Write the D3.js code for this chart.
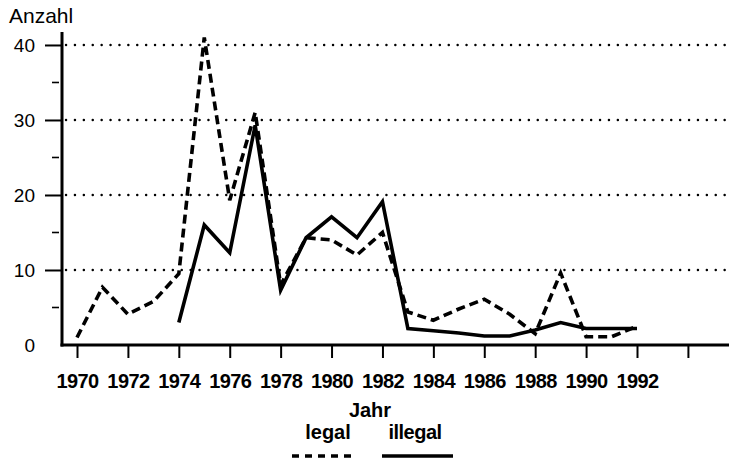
<!DOCTYPE html>
<html>
<head>
	<title>Anzahl legal / illegal</title>
	<script type="text/javascript" src="https://d3js.org/d3.v7.min.js"></script>
	<style>
		body { margin: 0; background: #fff; }
		text { font-family: "Liberation Sans", Arial, sans-serif; fill: #000; }
	</style>
</head>
<body>
<div id="container"></div>
<script type="text/javascript">

// data
var legalYears = d3.range(1970, 1993);
var legalValues = [1, 7.7, 4.1, 5.8, 9.5, 41, 19.3, 31, 8, 14.3, 14, 12, 15, 4.4, 3.3, 4.8, 6.1, 4.1, 1.5, 9.6, 1.1, 1.1, 2.5];
var illegalYears = d3.range(1974, 1993);
var illegalValues = [3, 16, 12.3, 29.3, 7.3, 14.3, 17.1, 14.3, 19.1, 2.2, 1.9, 1.6, 1.2, 1.2, 2, 3, 2.2, 2.2, 2.2];
var yTicks = [10, 20, 30, 40];
var yMinorTicks = [5, 15, 25, 35];
var xTicks = d3.range(1970, 1995, 2);
var xLabels = d3.range(1970, 1993, 2);

var width = 729;
var height = 461;

var svg = d3.select("#container").append("svg").attr("width", width).attr("height", height)
svg.append("rect").attr("width", width).attr("height", height).attr("fill", "#fff")

var x = d3.scaleLinear().domain([1970, 1992]).range([77, 637]);
var y = d3.scaleLinear().domain([0, 41.73]).range([345, 32]);

// dotted gridlines
svg.append("g").selectAll("line")
	.data(yTicks)
	.enter().append("line")
	.attr("x1", 66).attr("x2", width)
	.attr("y1", function(d) { return y(d); })
	.attr("y2", function(d) { return y(d); })
	.attr("stroke", "#000")
	.attr("stroke-width", 2.4)
	.attr("stroke-linecap", "round")
	.attr("stroke-dasharray", "0.1 8.8");

// y axis
var yAxis = d3.axisLeft(y).tickValues(yTicks.concat([0])).tickSize(17).tickPadding(10).tickFormat(d3.format("d"));
var gy = svg.append("g").attr("transform", "translate(62,0)").call(yAxis);
gy.select(".domain").remove();
gy.selectAll(".tick line").attr("stroke", "#000").attr("stroke-width", 2);
gy.selectAll(".tick").filter(function(d) { return d == 0; }).select("line").remove();
gy.selectAll(".tick text").attr("font-size", 19).attr("font-family", "Liberation Sans, Arial, sans-serif").attr("fill", "#000");

svg.append("g").selectAll("line")
	.data(yMinorTicks)
	.enter().append("line")
	.attr("x1", 52).attr("x2", 59)
	.attr("y1", function(d) { return y(d); })
	.attr("y2", function(d) { return y(d); })
	.attr("stroke", "#000")
	.attr("stroke-width", 1.6);

svg.append("line").attr("x1", 62).attr("x2", 62).attr("y1", y(41.73)).attr("y2", y(0) + 1.5)
	.attr("stroke", "#000").attr("stroke-width", 3);

// x axis
var xAxis = d3.axisBottom(x).tickValues(xTicks).tickSize(13).tickPadding(16)
	.tickFormat(function(d) { return xLabels.indexOf(d) >= 0 ? d : ""; });
var gx = svg.append("g").attr("transform", "translate(0," + y(0) + ")").call(xAxis);
gx.select(".domain").remove();
gx.selectAll(".tick line").attr("stroke", "#000").attr("stroke-width", 2);
gx.selectAll(".tick text").attr("font-size", 20).attr("font-weight", "bold").attr("letter-spacing", -0.6)
	.attr("font-family", "Liberation Sans, Arial, sans-serif").attr("fill", "#000");

svg.append("line").attr("x1", 60.5).attr("x2", width).attr("y1", y(0)).attr("y2", y(0))
	.attr("stroke", "#000").attr("stroke-width", 3);

// series
var line = d3.line()
	.x(function(d) { return x(d[0]); })
	.y(function(d) { return y(d[1]); });

svg.append("path")
	.datum(d3.zip(legalYears, legalValues))
	.attr("d", line)
	.attr("fill", "none")
	.attr("stroke", "#000")
	.attr("stroke-width", 3.6)
	.attr("stroke-dasharray", "9 5");

svg.append("path")
	.datum(d3.zip(illegalYears, illegalValues))
	.attr("d", line)
	.attr("fill", "none")
	.attr("stroke", "#000")
	.attr("stroke-width", 3.6)
	.attr("stroke-linejoin", "miter");

// titles
svg.append("text").attr("x", 9).attr("y", 23).attr("font-size", 21).text("Anzahl");
svg.append("text").attr("x", 370).attr("y", 417).attr("font-size", 20).attr("font-weight", "bold")
	.attr("text-anchor", "middle").text("Jahr");

// legend
var legend = svg.append("g")
legend.append("text").attr("x", 328).attr("y", 439).attr("font-size", 20).attr("font-weight", "bold")
	.attr("text-anchor", "middle").text("legal");
legend.append("text").attr("x", 415).attr("y", 439).attr("font-size", 20).attr("font-weight", "bold")
	.attr("letter-spacing", -0.5).attr("text-anchor", "middle").text("illegal");
legend.append("line").attr("x1", 292).attr("x2", 357).attr("y1", 456).attr("y2", 456)
	.attr("stroke", "#000").attr("stroke-width", 3.6).attr("stroke-dasharray", "7 6");
legend.append("line").attr("x1", 382).attr("x2", 453).attr("y1", 456).attr("y2", 456)
	.attr("stroke", "#000").attr("stroke-width", 3.6);

</script>
</body>
</html>
